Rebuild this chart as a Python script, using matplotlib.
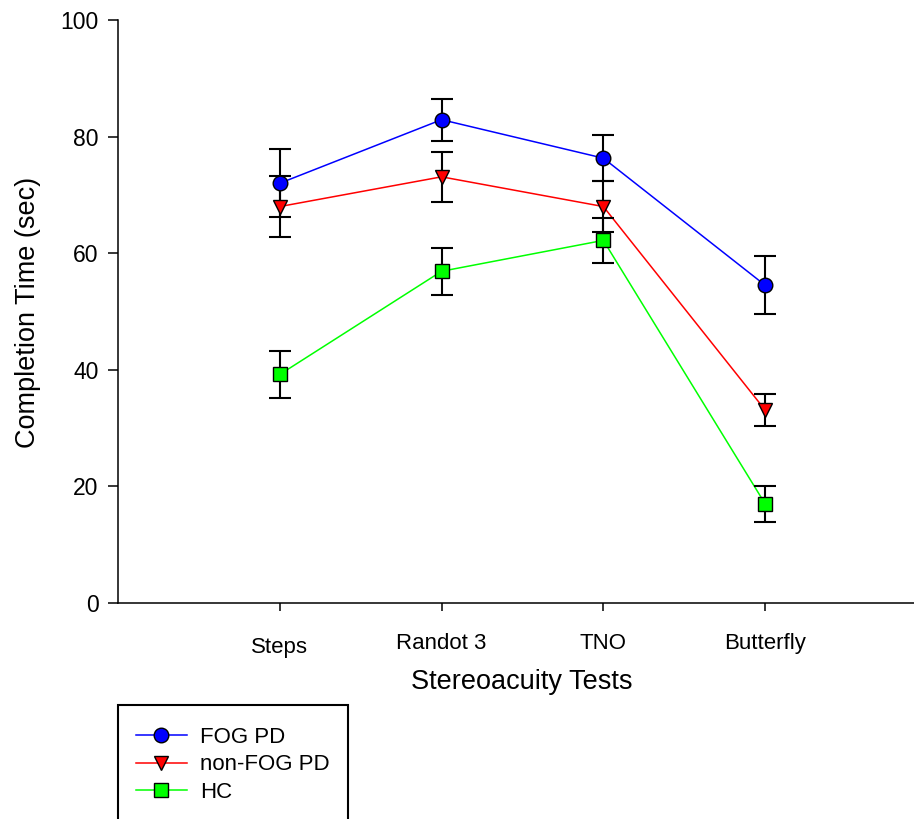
import matplotlib
matplotlib.use("Agg")
import matplotlib.pyplot as plt
import matplotlib.transforms as mtransforms
from matplotlib.patches import Rectangle
import numpy as np

plt.rcParams['font.family'] = ['Liberation Sans', 'DejaVu Sans']

tests = ["Steps", "Randot 3", "TNO", "Butterfly"]
fog_pd = [72.0, 82.9, 76.3, 54.5]
fog_pd_err = [5.8, 3.6, 3.9, 5.0]
nonfog_pd = [68.0, 73.1, 68.0, 33.1]
nonfog_pd_err = [5.3, 4.3, 4.3, 2.8]
hc = [39.2, 56.9, 62.2, 17.0]
hc_err = [4.1, 4.0, 3.9, 3.1]

series = [
    ("FOG PD", fog_pd, fog_pd_err, "#0000ff", "o", 10.5),
    ("non-FOG PD", nonfog_pd, nonfog_pd_err, "#ff0000", "v", 10.5),
    ("HC", hc, hc_err, "#00ff00", "s", 9.5),
]

W, H = 914, 819
fig = plt.figure(figsize=(W / 100, H / 100), dpi=100)
ax = fig.add_axes([118 / W, 1 - 603 / H, (914 - 118) / W, (603 - 20) / H])

x = np.arange(1, len(tests) + 1)
handles = []
for name, vals, err, col, mk, ms in series:
    ax.errorbar(x, vals, yerr=err, fmt="none", ecolor="black", elinewidth=1.5,
                capsize=8, capthick=1.5, zorder=3)
    ax.plot(x, vals, color=col, lw=1.1, zorder=2)
    ax.plot(x, vals, linestyle="none", marker=mk, markersize=ms,
            markerfacecolor=col, markeredgecolor="black", markeredgewidth=1.0, zorder=4)
    h, = ax.plot([], [], color=col, lw=1.1, marker=mk, markersize=ms,
                 markerfacecolor=col, markeredgecolor="black", markeredgewidth=1.0)
    handles.append(h)

ax.set_xlim(0, 4.92)
ax.set_ylim(0, 100)
ax.set_yticks([0, 20, 40, 60, 80, 100])
ax.set_xticks(x)
ax.set_xticklabels(tests)
for s in ["top", "right"]:
    ax.spines[s].set_visible(False)
for s in ["left", "bottom"]:
    ax.spines[s].set_linewidth(1.1)
ax.tick_params(axis="x", direction="out", length=6, width=1.1, pad=15.5, labelsize=16)
ax.tick_params(axis="y", direction="out", length=7, width=1.1, pad=7, labelsize=16.5)

# "Steps" sits slightly lower in the reference
lbl = ax.get_xticklabels()[0]
lbl.set_transform(lbl.get_transform() +
                  mtransforms.ScaledTranslation(0, -4 / 100, fig.dpi_scale_trans))

fig.text(28 / W, 1 - 312 / H, "Completion Time (sec)", rotation=90, ha="center",
         va="center", fontsize=19.5)
fig.text(522 / W, 1 - 682 / H, "Stereoacuity Tests", ha="center", va="center",
         fontsize=19.5)

# legend frame (extends past the bottom edge of the figure)
fig.patches.append(Rectangle((118 / W, -0.05), (348 - 118) / W, (1 - 705 / H) + 0.05,
                             transform=fig.transFigure, fill=False,
                             edgecolor="black", linewidth=1.5))
leg = fig.legend(handles=handles, labels=[s[0] for s in series],
                 loc="upper left", bbox_to_anchor=(118 / W, 1 - 709 / H),
                 bbox_transform=fig.transFigure, borderaxespad=0,
                 fontsize=16, frameon=False,
                 handlelength=2.3, handletextpad=0.6, labelspacing=0.3,
                 borderpad=0.8, numpoints=1)

fig.savefig("out.png", dpi=100)
